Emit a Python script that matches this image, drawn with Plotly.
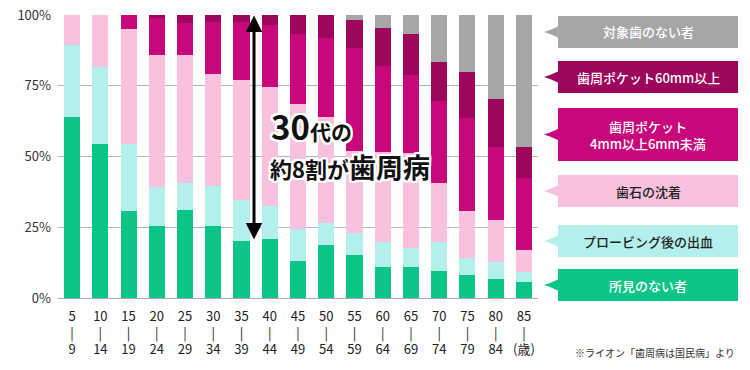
import plotly.graph_objects as go

ages = [5, 10, 15, 20, 25, 30, 35, 40, 45, 50, 55, 60, 65, 70, 75, 80, 85]
categories = [str(a) for a in ages]
tick_labels = [f"{a}<br>|<br>{a + 4}" for a in ages[:-1]] + ["85<br>|<br>(歳)"]

no_findings = [64.0, 54.4, 30.7, 25.4, 31.1, 25.4, 20.1, 20.8, 13.0, 18.7, 15.1, 10.9, 10.9, 9.4, 8.0, 6.6, 5.5]
bleeding = [25.3, 27.1, 23.7, 13.8, 9.5, 14.2, 14.5, 11.7, 11.3, 7.7, 7.8, 8.9, 6.8, 10.4, 6.2, 6.2, 3.6]
calculus = [10.7, 18.5, 40.8, 46.8, 45.4, 39.6, 42.5, 42.1, 44.3, 37.7, 29.0, 31.9, 33.4, 20.8, 16.5, 14.7, 7.8]
pocket_4_6 = [0, 0, 4.8, 12.8, 11.3, 18.4, 20.5, 21.7, 24.8, 27.9, 36.5, 30.4, 27.8, 29.1, 32.9, 25.9, 25.5]
pocket_6plus = [0, 0, 0, 1.2, 2.7, 2.4, 2.4, 3.7, 6.6, 8.0, 9.9, 13.4, 14.5, 13.8, 16.3, 17.0, 11.0]
no_teeth = [0, 0, 0, 0, 0, 0, 0, 0, 0, 0, 1.7, 4.5, 6.6, 16.5, 20.1, 29.6, 46.6]

series = [
    ("所見のない者", no_findings, "#0BC487", "white"),
    ("プロービング後の出血", bleeding, "#B4F0EB", "#222222"),
    ("歯石の沈着", calculus, "#F8C2DF", "#222222"),
    ("歯周ポケット<br>4mm以上6mm未満", pocket_4_6, "#C8087A", "white"),
    ("歯周ポケット60mm以上", pocket_6plus, "#9C065C", "white"),
    ("対象歯のない者", no_teeth, "#A6A6A6", "white"),
]

W, H = 750, 370
L, R, T, B = 58, 538, 15, 298
FONT = "Noto Sans CJK JP"


def px(x):
    return (x - L) / (R - L)


def py(y):
    return (B - y) / (B - T)


fig = go.Figure()
for name, vals, color, _ in series:
    fig.add_trace(go.Bar(x=categories, y=vals, name=name, marker=dict(color=color, line=dict(width=0)),
                         showlegend=False, hoverinfo="skip"))

# legend boxes (top to bottom)
boxes = [(16, 48), (61, 93), (108, 161), (175, 207), (225, 257), (269, 301)]
shapes = []
annotations = []
for (y0, y1), (name, vals, color, tcol) in zip(boxes, reversed(series)):
    cy = (y0 + y1) / 2
    shapes.append(dict(type="rect", xref="paper", yref="paper", x0=px(558), x1=px(738), y0=py(y1), y1=py(y0),
                       fillcolor=color, line=dict(width=0), layer="above"))
    shapes.append(dict(type="path", xref="paper", yref="paper",
                       path=f"M {px(559)} {py(cy - 6)} L {px(550)} {py(cy - 2)} L {px(544)} {py(cy)} "
                            f"L {px(550)} {py(cy + 2)} L {px(559)} {py(cy + 6)} Z",
                       fillcolor=color, line=dict(width=0), layer="above"))
    annotations.append(dict(xref="paper", yref="paper", x=px(648), y=py(cy), text=name, showarrow=False,
                            xanchor="center", yanchor="middle",
                            font=dict(family=FONT, size=13, color=tcol, weight=500)))

shadow = ", ".join(f"white {dx}px {dy}px 0" for dx in (-2, -1, 0, 1, 2) for dy in (-2, -1, 0, 1, 2)
                   if (dx, dy) != (0, 0))

annotations.append(dict(xref="paper", yref="paper", x=px(269), y=py(126),
                        text="<span style='font-size:33px'>30</span>代の", showarrow=False,
                        xanchor="left", yanchor="middle",
                        font=dict(family=FONT, size=21, color="#111111", weight="bold", shadow=shadow)))
annotations.append(dict(xref="paper", yref="paper", x=px(268), y=py(166),
                        text="約8割が<span style='font-size:27px'>歯周病</span>", showarrow=False,
                        xanchor="left", yanchor="middle",
                        font=dict(family=FONT, size=22, color="#111111", weight="bold", shadow=shadow)))

# double arrow
annotations.append(dict(xref="paper", yref="paper", x=px(254), y=py(15.5), axref="pixel", ayref="pixel",
                        ax=0, ay=(241 - 15.5), text="", showarrow=True, arrowhead=2, arrowside="end+start",
                        arrowsize=1.1, arrowwidth=3, arrowcolor="#000000", standoff=0, startstandoff=0))

annotations.append(dict(xref="paper", yref="paper", x=px(737), y=py(352), text="※ライオン「歯周病は国民病」より",
                        showarrow=False, xanchor="right", yanchor="middle",
                        font=dict(family=FONT, size=10, color="#333333")))

fig.update_layout(
    width=W, height=H, autosize=False,
    margin=dict(l=L, r=W - R, t=T, b=H - B, pad=0),
    barmode="stack", bargap=0.43,
    plot_bgcolor="white", paper_bgcolor="white",
    shapes=shapes, annotations=annotations,
    xaxis=dict(type="category", tickvals=categories, ticktext=tick_labels, showgrid=False, automargin=False,
               showline=True, linecolor="#AAAAAA", linewidth=1, ticks="", ticklabelstandoff=6,
               tickfont=dict(family=FONT, size=13, color="#222222")),
    yaxis=dict(range=[0, 100], tickvals=[0, 25, 50, 75, 100], ticktext=["0%", "25%", "50%", "75%", "100%"],
               showgrid=True, gridcolor="#B4B4B4", gridwidth=1, zeroline=False, showline=False, ticks="",
               ticklabelstandoff=6, automargin=False,
               tickfont=dict(family=FONT, size=13, color="#333333")),
)

fig.write_html("out.html", config={"displayModeBar": False, "staticPlot": True},
               post_script="document.body.style.margin='0';document.body.style.overflow='hidden';")
